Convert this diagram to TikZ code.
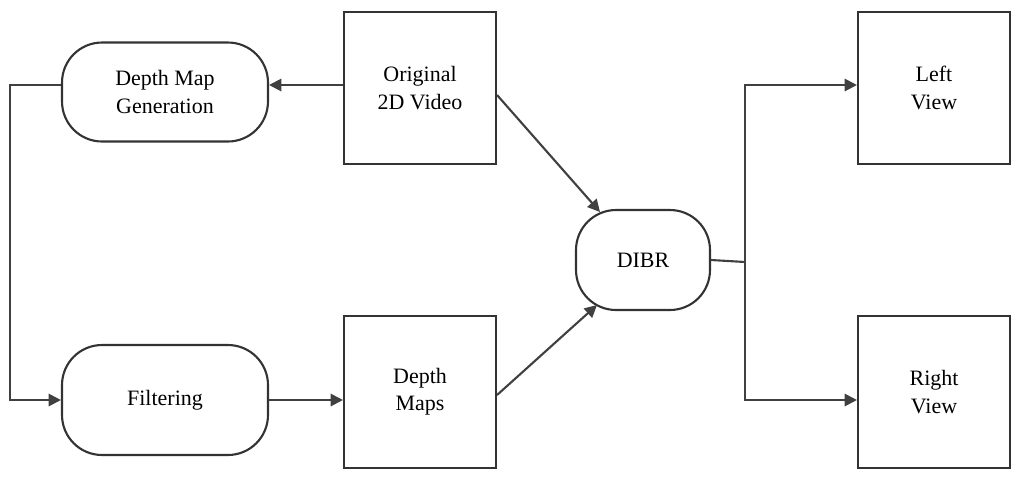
\documentclass[tikz,border=0pt]{standalone}
\usepackage{fontspec}
\setmainfont{Liberation Serif}
\usetikzlibrary{arrows.meta}
\begin{document}
\begin{tikzpicture}[x=0.02cm,y=-0.02cm,
 box/.style={draw=black!80,line width=1.2pt,minimum width=3.04cm,minimum height=3.04cm,align=center,font=\fontsize{12.5}{15.5}\selectfont},
 rbox/.style={draw=black!80,line width=1.2pt,rounded corners=0.8cm,align=center,font=\fontsize{12.5}{15.5}\selectfont},
 arr/.style={draw=black!75,line width=1.2pt,-{Triangle[length=7pt,width=7pt]}}]
\useasboundingbox (0,0) rectangle (1024,478);
\node[rbox,minimum width=4.12cm,minimum height=1.98cm] (dmg) at (165,92) {Depth Map\\Generation};
\node[box] (orig) at (420,88) {Original\\2D Video};
\node[rbox,minimum width=2.68cm,minimum height=2cm] (dibr) at (643,260) {DIBR};
\node[box] (left) at (934,88) {Left\\View};
\node[box] (right) at (934,392) {Right\\View};
\node[rbox,minimum width=4.12cm,minimum height=2.2cm] (filt) at (165,400) {Filtering};
\node[box] (dm) at (420,392) {Depth\\Maps};
\coordinate (a) at (10,85);
\coordinate (b) at (745,262);
\draw[arr] (orig.west|-0,85) -- (dmg.east|-0,85);
\draw[arr] (dmg.west|-0,85) -- (a) |- (filt.west);
\draw[arr] (filt.east) -- (dm.west|-0,400);
\draw[arr] (orig.east|-0,95) -- (600,212);
\draw[arr] (dm.east|-0,395) -- (597,305);
\draw[line width=1.2pt,draw=black!75] (dibr.east) -- (b);
\draw[arr] (b) |- (left.west|-0,85);
\draw[arr] (b) |- (right.west|-0,400);
\end{tikzpicture}
\end{document}
